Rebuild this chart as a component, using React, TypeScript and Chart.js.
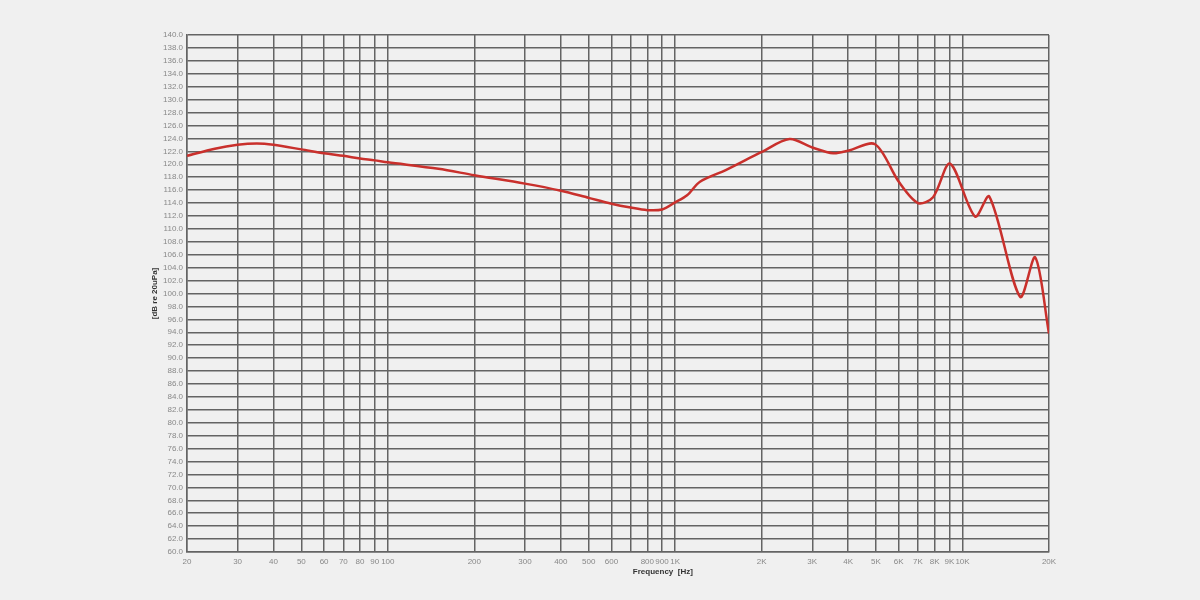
import React, { useEffect, useRef } from "react";
import { Chart, registerables } from "chart.js";

Chart.register(...registerables);

const freqs = [20, 25, 30, 35, 40, 50, 60, 70, 80, 90, 100, 150, 200, 300, 400, 500, 600, 700, 800, 900, 1000, 1100, 1220, 1500, 2000, 2500, 3000, 3550, 4000, 4960, 6000, 7000, 7900, 9050, 11060, 12400, 15860, 17900, 20000];
const spl = [121.3, 122.4, 123.0, 123.2, 123.0, 122.3, 121.7, 121.3, 120.9, 120.6, 120.3, 119.3, 118.3, 117.0, 115.9, 114.8, 113.9, 113.3, 112.9, 113.0, 114.1, 115.2, 117.3, 119.1, 121.9, 123.9, 122.6, 121.7, 122.1, 123.1, 117.3, 114.0, 114.9, 120.1, 111.9, 115.0, 99.5, 105.6, 93.8];

const xTickValues = [20, 30, 40, 50, 60, 70, 80, 90, 100, 200, 300, 400, 500, 600, 700, 800, 900, 1000, 2000, 3000, 4000, 5000, 6000, 7000, 8000, 9000, 10000, 20000];
const xTickLabels = ["20", "30", "40", "50", "60", "70", "80", "90", "100", "200", "300", "400", "500", "600", "", "800", "900", "1K", "2K", "3K", "4K", "5K", "6K", "7K", "8K", "9K", "10K", "20K"];

const xTitle = "Frequency  [Hz]";
const yTitle = "[dB re 20uPa]";

export default function App() {
  const ref = useRef<HTMLCanvasElement | null>(null);
  useEffect(() => {
    if (!ref.current) return;
    const gridColor = "#646464";
    const titles = {
      id: "titles",
      afterDraw(chart: any) {
        const { ctx, chartArea } = chart;
        ctx.save();
        ctx.fillStyle = "#333";
        ctx.font = "bold 8px 'Liberation Sans'";
        ctx.textAlign = "center";
        ctx.textBaseline = "middle";
        ctx.fillText(xTitle, chartArea.left + (chartArea.right - chartArea.left) * 0.552, 572);
        ctx.translate(155, (chartArea.top + chartArea.bottom) / 2);
        ctx.rotate(-Math.PI / 2);
        ctx.fillText(yTitle, 0, 0);
        ctx.restore();
      },
    };
    const chart = new Chart(ref.current, {
      type: "line",
      data: {
        datasets: [
          {
            data: freqs.map((f, i) => ({ x: f, y: spl[i] })),
            borderColor: "#c9302c",
            borderWidth: 2.5,
            pointRadius: 0,
            tension: 0.3,
            fill: false,
          },
        ],
      },
      options: {
        animation: false,
        responsive: false,
        layout: { padding: { top: 35, right: 151, bottom: 0, left: 0 } },
        plugins: { legend: { display: false }, tooltip: { enabled: false } },
        scales: {
          x: {
            type: "logarithmic",
            min: 20,
            max: 20000,
            afterBuildTicks: (s: any) => {
              s.ticks = xTickValues.map((v) => ({ value: v }));
            },
            afterFit: (s: any) => {
              s.height = 48;
            },
            grid: { color: gridColor, lineWidth: 1.5, drawTicks: false },
            border: { color: gridColor, width: 1.5 },
            ticks: {
              autoSkip: false,
              maxRotation: 0,
              padding: 5,
              color: "#888",
              font: { size: 8, family: "'Liberation Sans'" },
              callback: (_v: any, i: number) => xTickLabels[i],
            },
          },
          y: {
            min: 60,
            max: 140,
            afterFit: (s: any) => {
              s.width = 187;
            },
            grid: { color: gridColor, lineWidth: 1.5, drawTicks: false },
            border: { color: gridColor, width: 1.5 },
            ticks: {
              stepSize: 2,
              autoSkip: false,
              padding: 4,
              color: "#888",
              font: { size: 8, family: "'Liberation Sans'" },
              callback: (v: any) => Number(v).toFixed(1),
            },
          },
        },
      },
      plugins: [titles],
    } as any);
    return () => chart.destroy();
  }, []);
  return (
    <div style={{ position: "absolute", left: 0, top: 0, width: 1200, height: 600, background: "#f0f0f0" }}>
      <canvas ref={ref} width={1200} height={600} />
    </div>
  );
}
